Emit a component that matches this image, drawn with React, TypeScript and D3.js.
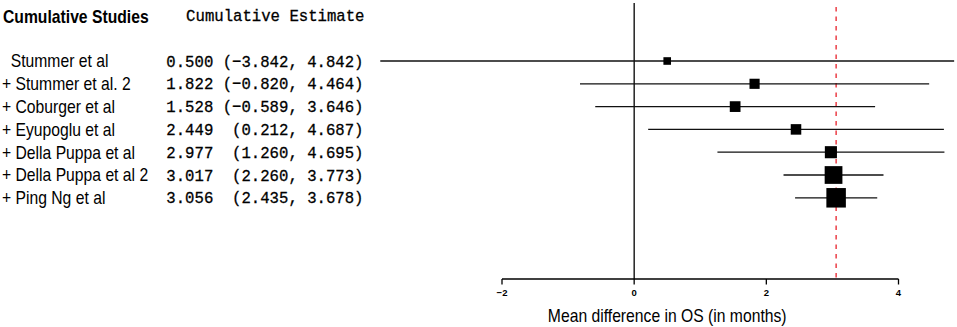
import React from "react";
import * as d3 from "d3";

const studies = [
  "  Stummer et al",
  "+ Stummer et al. 2",
  "+ Coburger et al",
  "+ Eyupoglu et al",
  "+ Della Puppa et al",
  "+ Della Puppa et al 2",
  "+ Ping Ng et al",
];
const estimates = [0.5, 1.822, 1.528, 2.449, 2.977, 3.017, 3.056];
const lowers = [-3.842, -0.82, -0.589, 0.212, 1.26, 2.26, 2.435];
const uppers = [4.842, 4.464, 3.646, 4.687, 4.695, 3.773, 3.678];
const weights = [0.39, 0.52, 0.55, 0.54, 0.62, 0.91, 1.0];
const xTicks = [-2, 0, 2, 4];
const summary = 3.056;

const W = 957;
const H = 327;

const fmt = (v: number) => d3.format(".3f")(v);
const ciText = (i: number) => {
  const e = fmt(estimates[i]);
  const inner = `(${fmt(lowers[i])}, ${fmt(uppers[i])})`;
  return `${e} ${inner.padStart(15, " ")}`;
};

const sans = "'Liberation Sans', Arial, Helvetica, sans-serif";
const mono = "'Liberation Mono', 'Courier New', monospace";

function T(props: {
  x: number;
  y: number;
  sx: number;
  size: number;
  family: string;
  anchor?: string;
  weight?: string;
  children: React.ReactNode;
  stroke?: number;
}) {
  return (
    <g transform={`translate(${props.x},${props.y}) scale(${props.sx},1)`}>
      <text
        x={0}
        y={0}
        fontFamily={props.family}
        fontSize={props.size}
        fontWeight={props.weight || "normal"}
        textAnchor={props.anchor || "start"}
        fill="#000"
        stroke={props.stroke ? "#000" : "none"}
        strokeWidth={props.stroke || 0}
        style={{ whiteSpace: "pre" }}
      >
        {props.children}
      </text>
    </g>
  );
}

export default function App() {
  const x = d3.scaleLinear().domain([-2, 4]).range([502, 898.5]);
  const y = d3.scaleLinear().domain([0, 1]).range([61, 83.8]);
  const size = d3.scaleLinear().domain([0, 1]).range([0, 19.5]);
  const SX = 0.877;
  const MX = 0.91;
  return (
    <div style={{ position: "absolute", left: 0, top: 0 }}>
      <svg width={W} height={H} style={{ display: "block", background: "#fff" }}>
        <T x={3} y={23.3} sx={SX} size={17.9} family={sans} weight="bold">
          Cumulative Studies
        </T>
        <T x={364.5} y={21} sx={MX} size={17.2} family={mono} anchor="end" stroke={0.3}>
          Cumulative Estimate
        </T>
        {studies.map((s, i) => (
          <g key={s}>
            <T x={2} y={y(i) + 6.3} sx={SX} size={17.9} family={sans}>
              {s}
            </T>
            <T x={363.5} y={y(i) + 5.5} sx={MX} size={17.2} family={mono} anchor="end" stroke={0.3}>
              {ciText(i)}
            </T>
          </g>
        ))}
        <line x1={x(0)} x2={x(0)} y1={3} y2={279} stroke="#000" strokeWidth={1.3} />
        <line
          x1={x(summary)}
          x2={x(summary)}
          y1={7}
          y2={278}
          stroke="#e8202a"
          strokeWidth={1.3}
          strokeDasharray="4.5 5"
        />
        {studies.map((s, i) => {
          const sz = size(weights[i]);
          return (
            <g key={"m" + s}>
              <line x1={x(lowers[i])} x2={x(uppers[i])} y1={y(i)} y2={y(i)} stroke="#111" strokeWidth={1.3} />
              <rect x={x(estimates[i]) - sz / 2} y={y(i) - sz / 2} width={sz} height={sz} fill="#000" />
            </g>
          );
        })}
        <line x1={x(-2)} x2={x(4)} y1={279} y2={279} stroke="#000" strokeWidth={1.3} />
        {xTicks.map((t) => (
          <g key={t}>
            <line x1={x(t)} x2={x(t)} y1={279} y2={284.5} stroke="#000" strokeWidth={1.3} />
            <text x={x(t)} y={295.5} fontFamily={sans} fontSize={9.5} fontWeight="bold" textAnchor="middle" fill="#000">
              {t < 0 ? "\u2212" + Math.abs(t) : String(t)}
            </text>
          </g>
        ))}
        <T x={x(0.5)} y={321.5} sx={SX} size={17.9} family={sans} anchor="middle">
          Mean difference in OS (in months)
        </T>
      </svg>
    </div>
  );
}
